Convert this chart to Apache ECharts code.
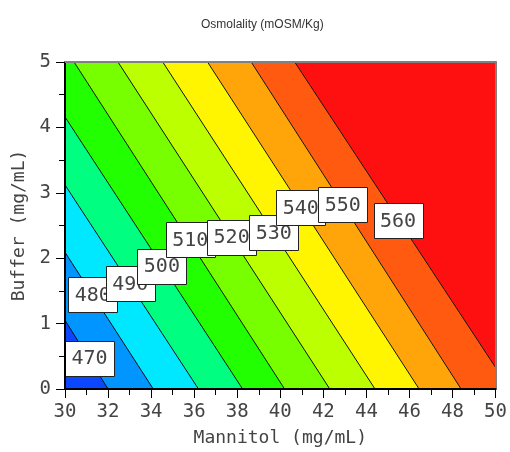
<!DOCTYPE html>
<html><head><meta charset="utf-8">
<script src="https://cdn.jsdelivr.net/npm/echarts@6/dist/echarts.min.js"></script>
<style>html,body{margin:0;padding:0;background:#fff}#c{width:510px;height:452px}</style>
</head><body><div id="c"></div>
<script>
// Contour levels (mOsm/Kg)
const levels = [470, 480, 490, 500, 510, 520, 530, 540, 550, 560];
// Each contour line read as two end points on the plot border (Mannitol, Buffer)
const lineStartMannitol = [30, 30, 30, 30, 30.42, 32.46, 34.54, 36.62, 38.65, 40.67];
const lineStartBuffer   = [1.05, 2.09, 3.12, 4.16, 5, 5, 5, 5, 5, 5];
const lineEndMannitol   = [32.0, 34.1, 36.2, 38.25, 40.2, 42.3, 44.4, 46.45, 48.4, 50];
const lineEndBuffer     = [0, 0, 0, 0, 0, 0, 0, 0, 0, 0.33];
// Where each contour label sits (Mannitol, Buffer)
const labelMannitol = [31.14, 31.29, 33.03, 34.50, 35.82, 37.74, 39.70, 40.95, 42.90, 45.47];
const labelBuffer   = [0.47, 1.44, 1.61, 1.88, 2.28, 2.32, 2.39, 2.77, 2.82, 2.57];
// Axis ranges
const mannitolRange = [30, 50];
const bufferRange = [0, 5];

const bandColors = ['#0a47ff', '#0095ff', '#00e8ff', '#00ff80', '#22ff00', '#77ff00',
                    '#bbff00', '#fff500', '#ffa50a', '#ff5a10', '#ff1010'];
const mono = 'DejaVu Sans Mono';
const txt = '#444';

const rect = [[mannitolRange[0], bufferRange[0]], [mannitolRange[1], bufferRange[0]],
              [mannitolRange[1], bufferRange[1]], [mannitolRange[0], bufferRange[1]]];

function clipLow(poly, k) {
  const x1 = lineStartMannitol[k], y1 = lineStartBuffer[k];
  const x2 = lineEndMannitol[k], y2 = lineEndBuffer[k];
  const f = p => (x2 - x1) * (p[1] - y1) - (y2 - y1) * (p[0] - x1);
  const s = Math.sign(f([mannitolRange[1], bufferRange[1]]));
  const g = p => s * f(p);
  const out = [];
  for (let i = 0; i < poly.length; i++) {
    const a = poly[i], b = poly[(i + 1) % poly.length];
    const ga = g(a), gb = g(b);
    if (ga <= 0) out.push(a);
    if ((ga < 0 && gb > 0) || (ga > 0 && gb < 0)) {
      const t = ga / (ga - gb);
      out.push([a[0] + t * (b[0] - a[0]), a[1] + t * (b[1] - a[1])]);
    }
  }
  return out;
}

const bandData = [levels.length];
for (let k = levels.length - 1; k >= 0; k--) bandData.push(k);

const chart = echarts.init(document.getElementById('c'), null, {renderer: 'canvas'});
chart.setOption({
  animation: false,
  title: {
    text: 'Osmolality (mOSM/Kg)', left: 196, top: 14,
    textStyle: {fontFamily: 'Liberation Sans', fontSize: 12, fontWeight: 'normal', color: '#333'}
  },
  grid: {left: 65, right: 12, top: 62, bottom: 63},
  xAxis: [{
    type: 'value', min: mannitolRange[0], max: mannitolRange[1], interval: 2, position: 'bottom',
    name: 'Mannitol (mg/mL)', nameLocation: 'middle', nameGap: 40,
    nameTextStyle: {fontFamily: mono, fontSize: 18, color: txt},
    axisLine: {show: true, onZero: false, lineStyle: {color: '#000', width: 2}},
    axisTick: {show: true, length: 9, lineStyle: {color: '#000', width: 1}},
    minorTick: {show: true, splitNumber: 2, length: 6, lineStyle: {color: '#000', width: 1}},
    axisLabel: {margin: 14, fontFamily: mono, fontSize: 19, color: txt},
    splitLine: {show: false}, z: 10
  }, {
    type: 'value', min: mannitolRange[0], max: mannitolRange[1], position: 'top',
    axisLine: {show: true, onZero: false, lineStyle: {color: '#808080', width: 2}},
    axisTick: {show: false}, axisLabel: {show: false}, splitLine: {show: false}, z: 10
  }],
  yAxis: [{
    type: 'value', min: bufferRange[0], max: bufferRange[1], interval: 1, position: 'left',
    name: 'Buffer (mg/mL)', nameLocation: 'middle', nameGap: 31,
    nameTextStyle: {fontFamily: mono, fontSize: 18, color: txt},
    axisLine: {show: true, onZero: false, lineStyle: {color: '#000', width: 2}},
    axisTick: {show: true, length: 9, lineStyle: {color: '#000', width: 1}},
    minorTick: {show: true, splitNumber: 2, length: 6, lineStyle: {color: '#000', width: 1}},
    axisLabel: {margin: 14, fontFamily: mono, fontSize: 19, color: txt},
    splitLine: {show: false}, z: 10
  }, {
    type: 'value', min: bufferRange[0], max: bufferRange[1], position: 'right',
    axisLine: {show: true, onZero: false, lineStyle: {color: '#808080', width: 2}},
    axisTick: {show: false}, axisLabel: {show: false}, splitLine: {show: false}, z: 10
  }],
  series: [{
    type: 'custom', silent: true, z: 1,
    data: bandData.map(k => [k]),
    encode: {x: -1, y: -1},
    renderItem: function (params, api) {
      const k = api.value(0);
      const poly = k === levels.length ? rect : clipLow(rect, k);
      if (poly.length < 3) return null;
      return {
        type: 'polygon',
        shape: {points: poly.map(p => api.coord(p))},
        style: {fill: bandColors[k], stroke: bandColors[k], lineWidth: 0.5}
      };
    }
  }, {
    type: 'custom', silent: true, z: 2,
    data: levels.map((lv, k) => [k]),
    encode: {x: -1, y: -1},
    renderItem: function (params, api) {
      const k = api.value(0);
      const a = api.coord([lineStartMannitol[k], lineStartBuffer[k]]);
      const b = api.coord([lineEndMannitol[k], lineEndBuffer[k]]);
      return {
        type: 'line',
        shape: {x1: a[0], y1: a[1], x2: b[0], y2: b[1]},
        style: {stroke: '#111', lineWidth: 1}
      };
    }
  }, {
    type: 'custom', silent: true, z: 3,
    data: levels.map((lv, k) => [labelMannitol[k], labelBuffer[k], lv]),
    renderItem: function (params, api) {
      const c = api.coord([api.value(0), api.value(1)]);
      const w = 49, h = 35;
      return {
        type: 'group',
        children: [{
          type: 'rect',
          shape: {x: Math.round(c[0] - w / 2) + 0.5, y: Math.round(c[1] - h / 2) + 0.5, width: w, height: h},
          style: {fill: '#fff', stroke: '#222', lineWidth: 1}
        }, {
          type: 'text',
          style: {
            x: c[0], y: c[1] + 1, text: String(api.value(2)),
            font: '20px "DejaVu Sans Mono"', fill: txt,
            align: 'center', verticalAlign: 'middle'
          }
        }]
      };
    }
  }]
});
</script>
</body></html>
